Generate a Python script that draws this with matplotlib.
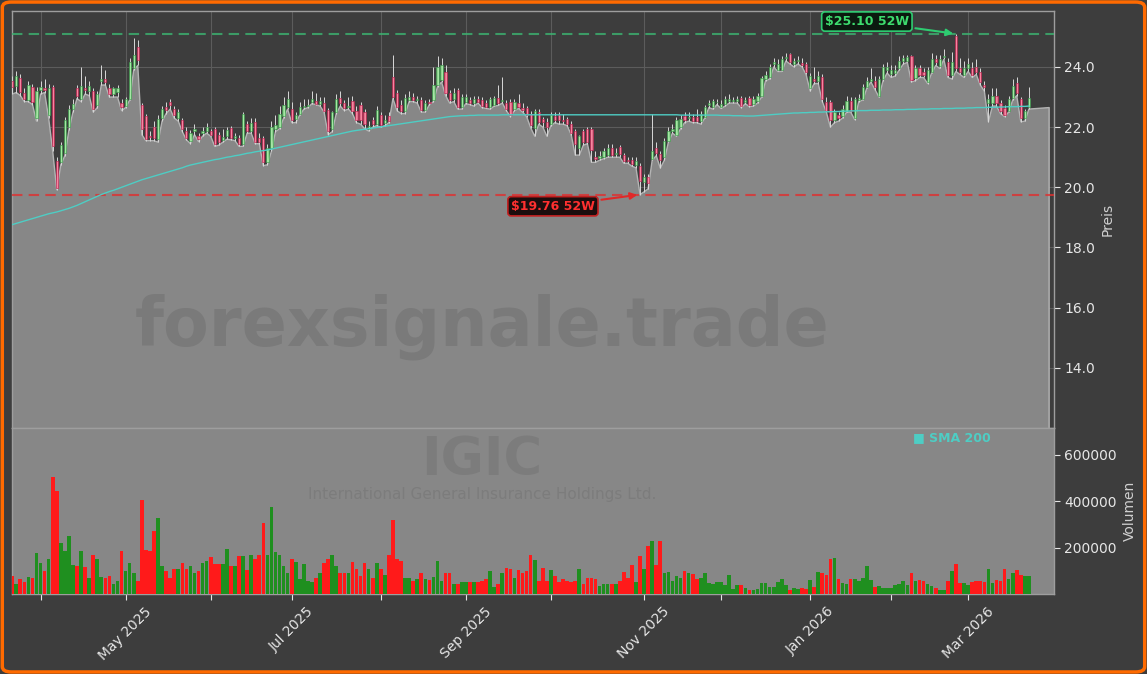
import matplotlib
matplotlib.use("Agg")
import matplotlib.pyplot as plt
from matplotlib.patches import FancyBboxPatch
import numpy as np
import pandas as pd

# trading days (NYSE calendar), Mar 21 2025 -> Mar 23 2026
holidays = ["2025-04-18", "2025-05-26", "2025-06-19", "2025-07-04", "2025-09-01",
            "2025-11-27", "2025-12-25", "2026-01-01", "2026-01-19", "2026-02-16"]
dates = pd.bdate_range("2025-03-21", "2026-03-23", freq="C", holidays=holidays)

opens = [23.55,
    23.37, 23.62, 23.15, 22.90, 23.33, 22.30, 23.25, 23.30, 22.40, 23.33,
    20.89, 20.85, 21.14, 22.00, 22.61, 23.29, 22.94, 23.31, 23.20, 23.19,
    22.73, 23.53, 23.59, 23.31, 23.10, 23.16, 22.80, 22.70, 22.95, 23.96,
    24.65, 22.73, 22.36, 21.72, 22.00, 21.60, 22.30, 22.67, 22.83, 22.61,
    22.30, 22.24, 21.87, 21.53, 21.87, 21.72, 21.80, 21.87, 21.87, 21.93,
    21.75, 21.58, 21.69, 21.97, 21.63, 21.65, 21.44, 22.12, 21.87, 22.18,
    21.63, 21.63, 20.83, 21.32, 21.93, 22.00, 22.36, 22.67, 22.61, 22.27,
    22.43, 22.67, 22.70, 22.83, 22.88, 22.76, 22.79, 22.58, 21.93, 22.49,
    22.98, 22.79, 22.66, 22.86, 22.55, 22.73, 22.49, 21.95, 22.24, 22.10,
    22.40, 22.13, 22.37, 23.66, 23.15, 22.74, 22.52, 22.90, 23.00, 22.90,
    22.90, 22.57, 22.85, 22.90, 23.40, 23.57, 23.84, 23.13, 22.93, 23.22,
    22.68, 22.85, 22.90, 22.79, 22.95, 22.90, 22.79, 22.68, 22.73, 22.98,
    22.88, 22.80, 22.85, 22.60, 22.79, 22.65, 22.63, 22.42, 21.96, 22.49,
    22.28, 22.18, 22.12, 22.36, 22.39, 22.24, 22.26, 22.12, 21.87, 21.30,
    21.87, 21.93, 21.93, 21.00, 20.98, 21.02, 21.08, 21.32, 21.10, 21.35,
    21.07, 20.90, 20.90, 20.75, 20.70, 20.19, 20.34, 20.95, 21.32, 21.10,
    21.00, 21.55, 21.87, 21.75, 22.00, 22.36, 22.30, 22.33, 22.33, 22.20,
    22.34, 22.73, 22.67, 22.82, 22.67, 22.76, 22.86, 22.86, 22.86, 22.98,
    22.85, 22.98, 22.76, 22.86, 23.04, 23.60, 23.65, 24.10, 23.90, 23.90,
    24.30, 24.42, 24.10, 24.20, 24.12, 24.09, 23.30, 23.60, 23.55, 23.65,
    22.85, 22.83, 22.24, 22.40, 22.36, 22.55, 22.86, 22.30, 22.90, 22.92,
    23.35, 23.55, 23.55, 23.04, 23.59, 23.90, 23.75, 23.80, 23.96, 24.20,
    24.20, 24.36, 23.62, 23.96, 23.84, 23.49, 23.84, 24.27, 24.02, 24.33,
    24.18, 23.74, 25.04, 23.96, 23.72, 23.96, 23.96, 24.00, 23.84, 23.40,
    22.80, 22.80, 23.04, 22.80, 22.63, 22.55, 22.98, 23.47, 22.92, 22.30, 22.67]

highs = [23.70,
    23.88, 23.75, 23.30, 23.55, 23.45, 23.35, 23.55, 23.60, 23.45, 23.40,
    21.00, 21.50, 22.35, 22.75, 22.95, 23.40, 24.00, 23.70, 23.55, 23.30,
    23.20, 24.05, 23.90, 23.45, 23.35, 23.40, 22.95, 23.00, 24.30, 24.95,
    24.90, 22.80, 22.45, 21.87, 22.20, 22.40, 22.70, 22.85, 22.95, 22.70,
    22.60, 22.30, 22.00, 21.90, 22.10, 21.80, 22.00, 22.15, 21.95, 22.00,
    21.85, 21.95, 22.00, 22.05, 21.80, 21.75, 22.50, 22.20, 22.30, 22.30,
    21.80, 21.70, 21.45, 22.20, 22.40, 22.70, 23.00, 23.20, 22.85, 22.50,
    22.85, 22.95, 22.95, 23.20, 23.15, 23.00, 23.00, 22.65, 22.55, 23.10,
    23.20, 22.90, 23.00, 23.05, 22.70, 22.85, 22.60, 22.20, 22.35, 22.70,
    22.50, 22.40, 22.50, 24.40, 23.25, 22.90, 23.10, 23.20, 23.15, 23.05,
    23.00, 22.90, 22.95, 24.00, 24.35, 24.30, 24.05, 23.25, 23.30, 23.30,
    23.10, 23.10, 23.00, 23.05, 23.05, 23.00, 22.90, 23.00, 23.05, 23.40,
    23.65, 22.90, 22.95, 22.95, 23.10, 22.80, 22.70, 22.55, 22.60, 22.60,
    22.35, 22.30, 22.50, 22.50, 22.50, 22.45, 22.35, 22.20, 21.95, 21.75,
    21.95, 22.00, 22.00, 21.20, 21.20, 21.30, 21.45, 21.45, 21.30, 21.40,
    21.15, 21.00, 21.00, 21.00, 20.80, 20.45, 20.45, 22.43, 21.50, 21.20,
    21.65, 22.00, 22.10, 22.35, 22.40, 22.50, 22.50, 22.45, 22.60, 22.55,
    22.75, 22.90, 22.95, 22.95, 22.90, 23.05, 23.10, 23.00, 23.05, 23.05,
    23.00, 23.05, 23.05, 23.15, 23.70, 23.85, 24.10, 24.30, 24.25, 24.35,
    24.45, 24.45, 24.30, 24.35, 24.30, 24.15, 23.80, 24.00, 23.85, 23.75,
    23.00, 22.90, 22.60, 22.50, 22.75, 23.05, 23.00, 23.00, 23.10, 23.45,
    23.65, 23.96, 23.70, 23.70, 24.10, 24.15, 24.05, 24.05, 24.35, 24.40,
    24.40, 24.40, 24.05, 24.05, 23.95, 24.00, 24.45, 24.40, 24.40, 24.60,
    24.30, 24.50, 25.10, 24.30, 24.20, 24.30, 24.15, 24.25, 23.95, 23.55,
    23.10, 23.30, 23.30, 22.90, 22.75, 23.05, 23.60, 23.65, 23.00, 22.60, 23.35]

lows = [23.10,
    23.15, 23.05, 22.85, 22.85, 22.75, 22.20, 23.10, 23.15, 22.30, 21.20,
    19.92, 20.75, 21.05, 21.90, 22.50, 22.95, 22.85, 23.10, 23.05, 22.50,
    22.65, 23.40, 23.40, 23.00, 23.00, 23.00, 22.55, 22.65, 22.90, 23.90,
    24.05, 21.75, 21.55, 21.55, 21.55, 21.50, 22.20, 22.45, 22.60, 22.30,
    22.20, 21.85, 21.58, 21.45, 21.75, 21.52, 21.70, 21.80, 21.70, 21.36,
    21.40, 21.50, 21.60, 21.58, 21.55, 21.36, 21.36, 21.80, 21.80, 21.45,
    21.45, 20.72, 20.75, 21.20, 21.85, 21.95, 22.30, 22.60, 22.15, 22.15,
    22.40, 22.60, 22.65, 22.78, 22.75, 22.70, 22.50, 21.75, 21.85, 22.45,
    22.70, 22.55, 22.60, 22.45, 22.15, 22.10, 21.95, 21.87, 22.00, 22.05,
    22.00, 22.05, 22.15, 22.95, 22.55, 22.45, 22.45, 22.85, 22.85, 22.80,
    22.50, 22.50, 22.75, 22.85, 23.35, 23.50, 23.05, 22.80, 22.85, 22.60,
    22.60, 22.78, 22.75, 22.70, 22.80, 22.65, 22.62, 22.60, 22.70, 22.72,
    22.80, 22.55, 22.35, 22.55, 22.62, 22.50, 22.35, 21.98, 21.70, 22.10,
    22.00, 21.70, 22.05, 22.15, 22.10, 22.10, 22.05, 21.75, 21.07, 21.07,
    21.40, 21.45, 20.83, 20.83, 20.90, 20.95, 21.00, 21.00, 21.00, 21.00,
    20.80, 20.80, 20.70, 20.65, 19.76, 19.85, 19.95, 20.90, 21.05, 20.64,
    20.90, 21.50, 21.80, 21.70, 21.95, 22.15, 22.20, 22.15, 22.15, 22.10,
    22.30, 22.65, 22.60, 22.75, 22.62, 22.70, 22.80, 22.80, 22.80, 22.65,
    22.78, 22.68, 22.70, 22.80, 23.00, 23.55, 23.60, 24.00, 23.85, 23.85,
    24.20, 24.10, 24.00, 24.10, 24.00, 23.75, 23.20, 23.45, 23.45, 22.85,
    22.50, 22.00, 22.15, 22.20, 22.30, 22.50, 22.50, 22.25, 22.85, 22.90,
    23.30, 23.50, 23.25, 23.00, 23.55, 23.80, 23.65, 23.70, 23.90, 24.10,
    24.15, 23.50, 23.55, 23.65, 23.65, 23.45, 23.80, 24.05, 23.95, 24.25,
    23.65, 23.60, 23.85, 23.75, 23.65, 23.85, 23.65, 23.75, 23.40, 23.20,
    22.18, 22.70, 22.70, 22.45, 22.35, 22.50, 22.90, 23.05, 22.18, 22.20, 22.60]

closes = [23.35,
    23.70, 23.18, 22.93, 23.40, 22.85, 23.20, 23.32, 23.25, 23.30, 21.38,
    19.97, 21.40, 22.24, 22.61, 22.76, 23.04, 23.37, 23.22, 23.36, 22.61,
    23.10, 23.59, 23.50, 23.10, 23.31, 23.31, 22.67, 22.92, 24.15, 24.40,
    24.22, 21.95, 21.60, 21.66, 21.63, 22.28, 22.61, 22.58, 22.73, 22.39,
    22.49, 21.93, 21.65, 21.81, 21.93, 21.60, 21.87, 22.00, 21.75, 21.44,
    21.50, 21.66, 21.90, 21.63, 21.69, 21.44, 22.43, 21.87, 22.14, 21.50,
    21.50, 20.83, 21.32, 21.99, 22.06, 22.43, 22.73, 22.92, 22.24, 22.39,
    22.67, 22.70, 22.72, 22.93, 22.76, 22.88, 22.55, 21.87, 22.49, 22.94,
    22.79, 22.63, 22.70, 22.55, 22.24, 22.24, 22.12, 22.05, 22.10, 22.57,
    22.07, 22.24, 22.22, 23.01, 22.66, 22.52, 22.96, 23.00, 22.90, 22.92,
    22.57, 22.80, 22.80, 23.40, 24.00, 24.07, 23.13, 22.90, 23.15, 22.68,
    23.01, 23.01, 22.79, 22.95, 22.85, 22.70, 22.68, 22.92, 22.98, 22.80,
    22.90, 22.60, 22.40, 22.85, 22.68, 22.58, 22.41, 22.06, 22.52, 22.18,
    22.18, 22.00, 22.39, 22.25, 22.25, 22.22, 22.12, 21.81, 21.45, 21.70,
    21.50, 21.50, 21.25, 20.95, 21.05, 21.20, 21.32, 21.07, 21.15, 21.10,
    20.87, 20.87, 20.78, 20.88, 20.21, 20.34, 20.15, 21.20, 21.14, 20.90,
    21.55, 21.87, 21.95, 22.24, 22.27, 22.24, 22.33, 22.20, 22.20, 22.42,
    22.67, 22.80, 22.86, 22.85, 22.76, 22.92, 22.95, 22.90, 22.95, 22.70,
    22.90, 22.73, 22.95, 23.04, 23.62, 23.72, 23.99, 24.15, 24.10, 24.27,
    24.34, 24.18, 24.20, 24.22, 24.08, 23.84, 23.70, 23.55, 23.70, 22.92,
    22.55, 22.24, 22.49, 22.30, 22.61, 22.86, 22.55, 22.92, 22.98, 23.35,
    23.55, 23.60, 23.35, 23.59, 24.00, 24.00, 23.90, 23.90, 24.20, 24.30,
    24.33, 23.57, 23.96, 23.74, 23.72, 23.90, 24.27, 24.15, 24.27, 24.36,
    23.74, 24.15, 23.96, 23.84, 23.96, 24.09, 23.72, 23.84, 23.50, 23.32,
    22.92, 23.04, 22.80, 22.55, 22.40, 22.92, 23.37, 23.12, 22.30, 22.52, 22.98]

volumes = [78000,
    43000, 64000, 52000, 75000, 71000, 177000, 132000, 99000, 149000, 506000,
    444000, 220000, 184000, 248000, 123000, 121000, 184000, 117000, 71000, 170000,
    152000, 75000, 67000, 78000, 43000, 57000, 184000, 99000, 132000, 90000,
    57000, 404000, 191000, 184000, 272000, 326000, 121000, 99000, 71000, 109000,
    109000, 132000, 106000, 121000, 92000, 99000, 135000, 142000, 160000, 128000,
    128000, 128000, 195000, 121000, 121000, 163000, 163000, 102000, 166000, 152000,
    166000, 305000, 166000, 373000, 181000, 166000, 121000, 92000, 152000, 138000,
    64000, 128000, 57000, 52000, 71000, 92000, 132000, 152000, 169000, 121000,
    92000, 92000, 92000, 137000, 106000, 78000, 132000, 106000, 71000, 135000,
    109000, 80000, 166000, 320000, 149000, 142000, 71000, 71000, 57000, 64000,
    92000, 64000, 60000, 75000, 140000, 57000, 92000, 92000, 43000, 43000,
    50000, 50000, 50000, 50000, 50000, 57000, 64000, 99000, 28000, 43000,
    92000, 113000, 106000, 71000, 103000, 92000, 99000, 170000, 146000, 57000,
    113000, 57000, 103000, 78000, 50000, 64000, 57000, 50000, 57000, 106000,
    43000, 71000, 71000, 64000, 35000, 45000, 45000, 43000, 43000, 57000,
    95000, 71000, 123000, 52000, 163000, 106000, 205000, 230000, 125000, 227000,
    92000, 95000, 57000, 78000, 71000, 99000, 89000, 85000, 64000, 70000,
    92000, 47000, 43000, 50000, 50000, 40000, 82000, 21000, 38000, 38000,
    26000, 18000, 18000, 20000, 47000, 47000, 28000, 30000, 50000, 64000,
    40000, 17000, 24000, 20000, 24000, 22000, 60000, 30000, 95000, 89000,
    82000, 152000, 156000, 66000, 47000, 45000, 64000, 66000, 57000, 71000,
    121000, 60000, 28000, 35000, 24000, 24000, 24000, 38000, 43000, 57000,
    40000, 89000, 57000, 61000, 57000, 43000, 35000, 24000, 18000, 18000,
    55000, 99000, 128000, 47000, 47000, 38000, 52000, 57000, 57000, 50000,
    108000, 47000, 61000, 57000, 108000, 64000, 92000, 103000, 82000, 78000, 78000]

sma200 = [18.76,
    18.80, 18.84, 18.88, 18.92, 18.96, 19.00, 19.04, 19.08, 19.12, 19.15,
    19.18, 19.22, 19.26, 19.30, 19.35, 19.40, 19.46, 19.52, 19.58, 19.64,
    19.70, 19.76, 19.81, 19.86, 19.90, 19.95, 20.00, 20.05, 20.10, 20.15,
    20.20, 20.25, 20.29, 20.33, 20.37, 20.41, 20.45, 20.49, 20.53, 20.57,
    20.61, 20.65, 20.70, 20.74, 20.77, 20.80, 20.83, 20.86, 20.89, 20.92,
    20.94, 20.97, 21.00, 21.02, 21.05, 21.07, 21.10, 21.13, 21.15, 21.18,
    21.20, 21.22, 21.24, 21.27, 21.30, 21.33, 21.36, 21.39, 21.42, 21.45,
    21.48, 21.51, 21.54, 21.57, 21.60, 21.63, 21.66, 21.69, 21.72, 21.75,
    21.78, 21.81, 21.84, 21.87, 21.89, 21.91, 21.93, 21.95, 21.97, 21.99,
    22.01, 22.03, 22.05, 22.07, 22.09, 22.11, 22.13, 22.15, 22.17, 22.19,
    22.21, 22.23, 22.25, 22.27, 22.29, 22.31, 22.33, 22.35, 22.36, 22.37,
    22.38, 22.38, 22.39, 22.39, 22.40, 22.40, 22.40, 22.40, 22.40, 22.40,
    22.41, 22.41, 22.41, 22.41, 22.41, 22.41, 22.41, 22.41, 22.41, 22.41,
    22.41, 22.41, 22.41, 22.41, 22.41, 22.41, 22.41, 22.41, 22.41, 22.41,
    22.41, 22.41, 22.41, 22.41, 22.41, 22.41, 22.41, 22.41, 22.41, 22.41,
    22.41, 22.41, 22.41, 22.41, 22.41, 22.41, 22.41, 22.41, 22.41, 22.41,
    22.41, 22.41, 22.41, 22.41, 22.40, 22.40, 22.40, 22.40, 22.40, 22.40,
    22.40, 22.40, 22.40, 22.40, 22.39, 22.39, 22.39, 22.38, 22.38, 22.38,
    22.37, 22.37, 22.37, 22.38, 22.39, 22.40, 22.41, 22.42, 22.43, 22.44,
    22.45, 22.46, 22.47, 22.47, 22.48, 22.48, 22.49, 22.49, 22.50, 22.50,
    22.51, 22.51, 22.52, 22.52, 22.53, 22.53, 22.54, 22.54, 22.55, 22.55,
    22.55, 22.56, 22.56, 22.56, 22.57, 22.57, 22.57, 22.58, 22.58, 22.58,
    22.59, 22.59, 22.59, 22.60, 22.60, 22.60, 22.61, 22.61, 22.61, 22.62,
    22.62, 22.62, 22.63, 22.63, 22.63, 22.64, 22.64, 22.65, 22.65, 22.65,
    22.66, 22.66, 22.66, 22.67, 22.67, 22.68, 22.68, 22.68, 22.69, 22.69, 22.70]

high_52w = 25.10
low_52w = 19.76
fill_end = 22.65
ticker = "IGIC"
company = "International General Insurance Holdings Ltd."
label_months = [5, 7, 9, 11, 1, 3]

o = np.array(opens)
h = np.array(highs)
l = np.array(lows)
c = np.array(closes)
n = len(c)
x = np.arange(n)
up = c >= o

bg = "#3d3d3d"
grey = "#878787"

fig = plt.figure(figsize=(11.47, 6.74), dpi=100, facecolor=bg)
ax = fig.add_axes([12 / 1147, 1 - 428 / 674, 1042 / 1147, 417 / 674])
axv = fig.add_axes([12 / 1147, 1 - 594 / 674, 1042 / 1147, 166 / 674], sharex=ax)

# --- price panel ---
ax.set_facecolor(bg)
fx = np.append(x, n + 4)
fy = np.append(l, fill_end)
ax.fill_between(fx, fy, 0, color=grey, edgecolor="#b4b4b4", lw=1, zorder=2)

ax.vlines(x, l, h, color="#d8d8d8", lw=0.7, zorder=3)
body_h = np.maximum(np.abs(c - o), 0.03)
ax.bar(x[up], body_h[up], bottom=np.minimum(o, c)[up], width=0.55,
       color="#9cec9c", edgecolor="#3a9a4a", lw=0.5, alpha=0.85, zorder=4)
ax.bar(x[~up], body_h[~up], bottom=np.minimum(o, c)[~up], width=0.55,
       color="#ff7898", edgecolor="#c02050", lw=0.5, alpha=0.85, zorder=4)

ax.plot(x, sma200, color="#4ecdc4", lw=1.0, zorder=5)

ax.axhline(high_52w, color="#3cb371", ls="--", lw=1.5, alpha=0.8, dashes=(5, 3), zorder=3)
ax.axhline(low_52w, color="#e03030", ls="--", lw=1.5, alpha=0.8, dashes=(5, 3), zorder=3)

i_hi = int(np.argmax(h))
i_lo = int(np.argmin(l))
ax.annotate(r"\$%.2f 52W" % high_52w, xy=(i_hi, high_52w), xytext=(211, 25.51),
            color="#3ddc6e", fontsize=9, fontweight="bold", ha="center", va="center",
            bbox=dict(boxstyle="round,pad=0.25", fc="#0b1a0f", ec="#2ecc71", lw=1.2),
            arrowprops=dict(arrowstyle="-|>", color="#2ecc71", lw=1.5, mutation_scale=10),
            zorder=8)
ax.annotate(r"\$%.2f 52W" % low_52w, xy=(i_lo, low_52w), xytext=(133.5, 19.37),
            color="#ff3030", fontsize=9, fontweight="bold", ha="center", va="center",
            bbox=dict(boxstyle="round,pad=0.25", fc="#1c0e0e", ec="#c02020", lw=1.2),
            arrowprops=dict(arrowstyle="-|>", color="#e02828", lw=1.5, mutation_scale=10),
            zorder=8)

ax.set_ylim(12.0, 25.86)
ax.set_xlim(-0.05, 257.2)
ax.set_yticks([14, 16, 18, 20, 22, 24])
ax.set_yticklabels(["%.1f" % v for v in [14, 16, 18, 20, 22, 24]])
ax.yaxis.tick_right()
ax.yaxis.set_label_position("right")
ax.set_ylabel("Preis", color="#d0d0d0", fontsize=10)
ax.tick_params(axis="y", colors="#e6e6e6", labelsize=10, length=4)
ax.tick_params(axis="x", bottom=False, labelbottom=False)
ax.grid(True, color="#5c5c5c", lw=0.8, zorder=1)

# --- volume panel ---
axv.set_facecolor(grey)
axv.bar(x, volumes, width=0.9, color=np.where(up, "#1f8f1f", "#ff1a1a"), zorder=3)
axv.set_ylim(0, 715000)
axv.set_yticks([200000, 400000, 600000])
axv.set_yticklabels(["200000", "400000", "600000"])
axv.yaxis.tick_right()
axv.yaxis.set_label_position("right")
axv.set_ylabel("Volumen", color="#d0d0d0", fontsize=10)
axv.tick_params(axis="y", colors="#e6e6e6", labelsize=10, length=4)

month_idx = [i for i in range(1, n) if dates[i].month != dates[i - 1].month]
month_lbl = [dates[i].strftime("%b %Y") if dates[i].month in label_months else ""
             for i in month_idx]
axv.set_xticks(month_idx)
axv.set_xticklabels(month_lbl, rotation=45, fontsize=10, color="#e6e6e6")
axv.tick_params(axis="x", colors="#e6e6e6", length=4)
ax.set_xticks(month_idx)

for a in (ax, axv):
    for s in a.spines.values():
        s.set_color("#9e9e9e")
        s.set_linewidth(1)

# watermarks and legend
fig.text(482 / 1147, 1 - 327 / 674, "forexsignale.trade", fontsize=48, fontweight="bold",
         color="#7a7a7a", ha="center", va="center")
fig.text(482 / 1147, 1 - 460 / 674, ticker, fontsize=38, fontweight="bold",
         color="#7c7c7c", ha="center", va="center")
fig.text(482 / 1147, 1 - 494 / 674, company, fontsize=11,
         color="#7c7c7c", ha="center", va="center")
fig.text(913 / 1147, 1 - 438 / 674, "■ SMA 200", fontsize=9, fontweight="bold",
         color="#4ecdc4", ha="left", va="center")

fig.patches.append(FancyBboxPatch((0.002, 0.003), 0.996, 0.994,
                                  boxstyle="round,pad=0,rounding_size=0.008",
                                  transform=fig.transFigure, fill=False,
                                  edgecolor="#ff6a00", lw=2.5))

fig.savefig("out.png", dpi=100, facecolor=bg)
